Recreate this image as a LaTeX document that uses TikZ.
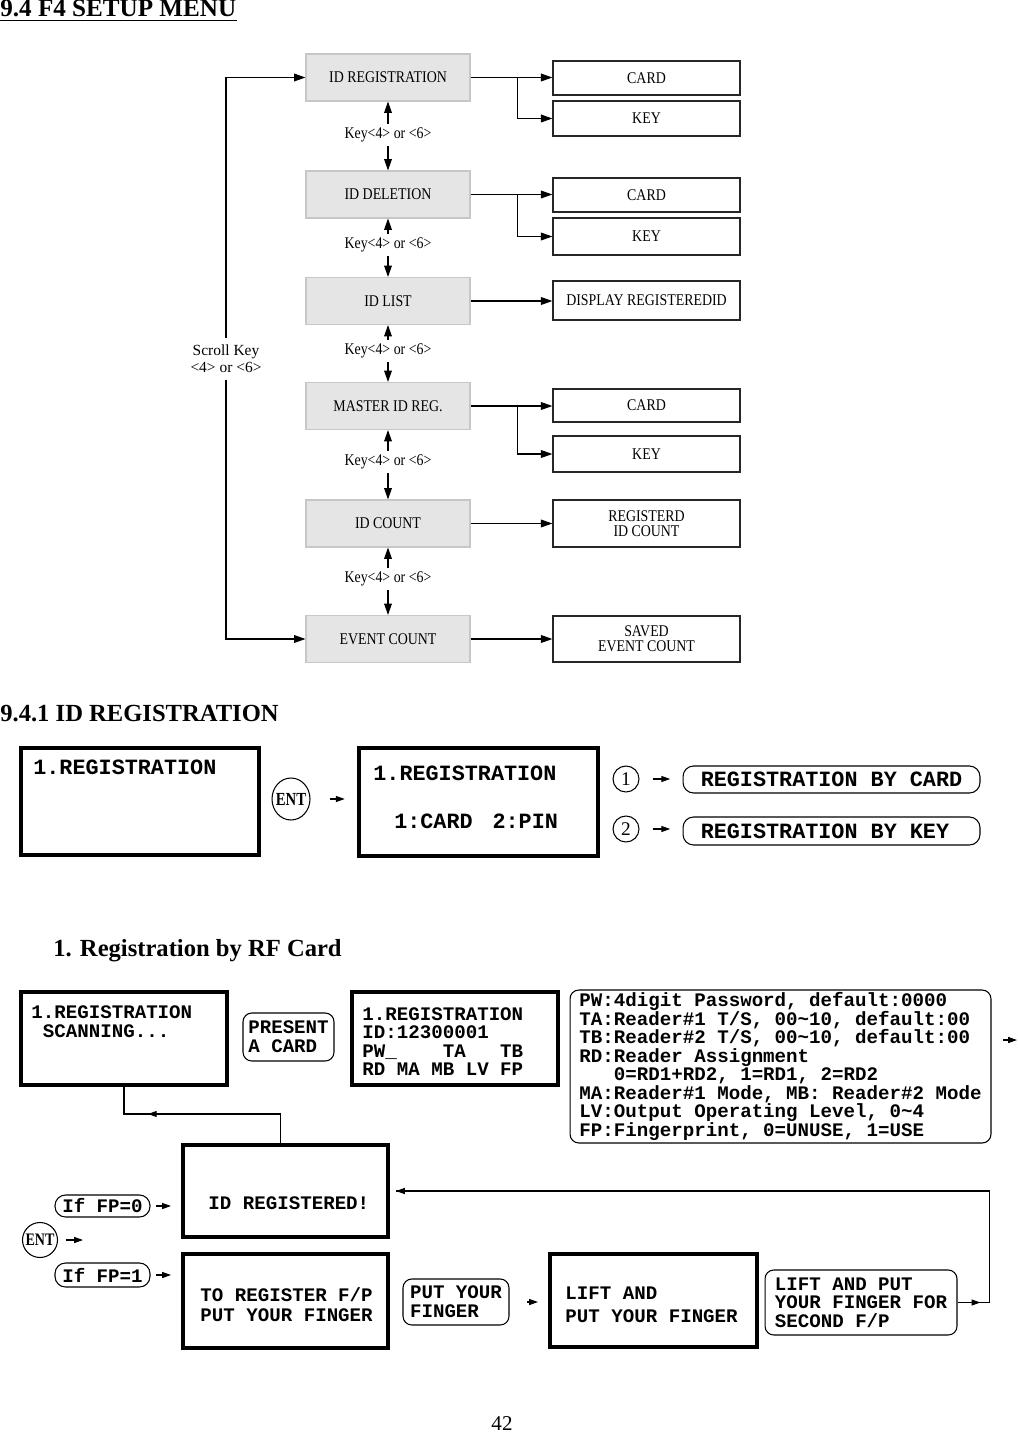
\documentclass[tikz,border=0pt]{standalone}
\usepackage{fontspec}
\setmainfont{Liberation Serif}
\newfontfamily\lcdfont{Liberation Mono}
\newfontfamily\menufont{Liberation Serif}[FakeStretch=0.85]
\newfontfamily\entfont{Liberation Serif}[FakeStretch=0.8]
\usetikzlibrary{arrows.meta,shapes.geometric,decorations.markings,positioning}

\tikzset{
  menubox/.style={draw=black!22, fill=black!10, line width=0.6pt,
    minimum width=3.28cm, minimum height=0.94cm, inner sep=0pt,
    font=\menufont\fontsize{9.3}{8.5}\selectfont},
  subbox/.style={draw=black!85, line width=0.7pt, minimum width=3.74cm,
    inner sep=0pt, align=center, font=\menufont\fontsize{9.3}{8.5}\selectfont},
  keylbl/.style={inner xsep=1pt, inner ysep=2pt, align=center,
    font=\menufont\fontsize{9.3}{9.6}\selectfont},
  flow/.style={line width=0.6pt, -{Triangle[length=6.5pt,width=4.4pt]}},
  lcd/.style={draw, line width=2.3pt, inner sep=0pt},
  scr/.style={anchor=north west, inner sep=0pt, align=left},
  lcdbig/.style={font=\lcdfont\bfseries\fontsize{12.4}{13}\selectfont},
  lcdsmall/.style={font=\lcdfont\bfseries\fontsize{10.9}{#1}\selectfont},
  lcdsmall/.default=10.8,
  tag/.style={draw, line width=0.6pt, rounded corners=5pt, inner sep=0pt, align=left},
  ring/.style={draw, ellipse, line width=0.6pt, inner sep=0pt},
  stub/.style={line width=0.6pt, -{Triangle[length=5pt,width=3.4pt]}},
  backline/.style={line width=0.6pt, postaction={decorate}}
}

\begin{document}
\begin{tikzpicture}[x=0.02cm, y=-0.02cm]
  \useasboundingbox (0,0) rectangle (1017,1432);

  \node[anchor=base west, inner sep=0pt, font=\bfseries\fontsize{14.3}{16}\selectfont] (ttl) at (0,17) {9.4 F4 SETUP MENU};
  \draw[line width=1.1pt] ([yshift=-2pt]ttl.base west) -- ([yshift=-2pt]ttl.base east);

  \node[menubox] (reg) at (388,77.5) {ID REGISTRATION};
  \node[menubox] (del) at (388,194.5) {ID DELETION};
  \node[menubox] (lst) at (388,301) {ID LIST};
  \node[menubox] (mst) at (388,406) {MASTER ID REG.};
  \node[menubox] (cnt) at (388,523.5) {ID COUNT};
  \node[menubox] (evt) at (388,639) {EVENT COUNT};

  \node[subbox, minimum height=0.68cm] (regcard) at (646.5,78) {CARD};
  \node[subbox, minimum height=0.7cm] (regkey) at (646.5,118.5) {KEY};
  \node[subbox, minimum height=0.68cm] (delcard) at (646.5,195) {CARD};
  \node[subbox, minimum height=0.74cm] (delkey) at (646.5,236.5) {KEY};
  \node[subbox, minimum height=0.78cm] (lstshow) at (646.5,300.5) {DISPLAY REGISTEREDID};
  \node[subbox, minimum height=0.66cm] (mstcard) at (646.5,405.5) {CARD};
  \node[subbox, minimum height=0.72cm] (mstkey) at (646.5,454) {KEY};
  \node[subbox, minimum height=0.94cm] (cntshow) at (646.5,523.5) {REGISTERD\\ID COUNT};
  \node[subbox, minimum height=0.92cm] (evtshow) at (646.5,639) {SAVED\\EVENT COUNT};

  \draw[flow] (reg) -- (reg -| regcard.west);
  \draw[flow] (reg.east) -- ++(47,0) |- (regkey);
  \draw[flow] (del) -- (del -| delcard.west);
  \draw[flow] (del.east) -- ++(47,0) |- (delkey);
  \draw[flow] (lst) -- (lst -| lstshow.west);
  \draw[flow] (mst) -- (mst -| mstcard.west);
  \draw[flow] (mst.east) -- ++(47,0) |- (mstkey);
  \draw[flow] (cnt) -- (cntshow);
  \draw[flow] (evt) -- (evtshow);

  \foreach \up/\dn/\y [count=\i] in {reg/del/135, del/lst/245, lst/mst/351, mst/cnt/462, cnt/evt/579}{
    \node[keylbl] (k\i) at (388,\y) {Key<4> or <6>};
    \draw[flow] (k\i) -- (\up);
    \draw[flow] (k\i) -- (\dn);
  }

  \node[keylbl, inner ysep=3.6pt, font=\fontsize{8.8}{9.6}\selectfont] (scroll) at (226,359) {Scroll Key\\<4> or <6>};
  \draw[flow] (scroll) |- (reg);
  \draw[flow] (scroll) |- (evt);

  \node[anchor=base west, inner sep=0pt, font=\bfseries\fontsize{14}{16}\selectfont] (sec) at (0,721) {9.4.1 ID REGISTRATION};

  \node[lcd, minimum width=4.76cm, minimum height=2.14cm] (lcda) at (140,801.5) {};
  \node[scr, lcdbig] (lcdaT) at (33,760) {1.REGISTRATION};
  \node[ring, inner xsep=-1.5pt, minimum width=0.76cm, minimum height=0.84cm,
    font=\entfont\bfseries\fontsize{10.5}{10.5}\selectfont] (enta) at (291,799) {ENT};
  \node[lcd, minimum width=4.78cm, minimum height=2.16cm] (lcdb) at (478.5,802) {};
  \node[scr, lcdbig] (lcdbT) at (373,766) {1.REGISTRATION\\[14.2pt]\hspace*{11.9pt}1:CARD\hspace{11.3pt}2:PIN};
  \node[ring, minimum size=0.52cm, font=\fontsize{11}{11}\selectfont] (one) at (626,779) {1};
  \node[ring, minimum size=0.52cm, font=\fontsize{11}{11}\selectfont] (two) at (626,829) {2};
  \node[tag, lcdbig, rounded corners=6pt, minimum width=5.94cm, minimum height=0.54cm] (bycard) at (831.5,779.5) {REGISTRATION BY CARD};
  \node[tag, lcdbig, rounded corners=6pt, minimum width=5.94cm, minimum height=0.56cm] (bykey) at (831.5,831) {REGISTRATION BY KEY\hphantom{X}};
  \draw[stub, shorten <=10.8pt, shorten >=7pt] (enta) -- (enta -| lcdb.west);
  \draw[stub, shorten <=7.4pt, shorten >=7pt] (one) -- (one -| bycard.west);
  \draw[stub, shorten <=7.4pt, shorten >=7pt] (two) -- (two -| bykey.west);

  \node[anchor=base west, inner sep=0pt, font=\bfseries\fontsize{14}{16}\selectfont] (sub) at (53,956) {1. Registration by RF Card};

  \node[lcd, minimum width=4.12cm, minimum height=1.86cm] (scan) at (124,1038.5) {};
  \node[scr, lcdsmall] (scanT) at (31,1005) {1.REGISTRATION\\~SCANNING...};
  \node[tag, lcdsmall, minimum width=1.82cm, minimum height=0.96cm] (card) at (288.5,1037) {PRESENT\\A CARD};
  \node[lcd, minimum width=4.12cm, minimum height=1.86cm] (idscr) at (455,1038.5) {};
  \node[scr, lcdsmall=10.5] (idscrT) at (362,1007) {1.REGISTRATION\\ID:12300001\\PW\_~~~~TA~~~TB\\RD~MA~MB~LV~FP};
  \node[tag, lcdsmall=10.5, minimum width=8.42cm, minimum height=3.06cm] (info) at (780.5,1066.5)
    {PW:4digit Password, default:0000\\
     TA:Reader\#1 T/S, 00\textasciitilde10, default:00\\
     TB:Reader\#2 T/S, 00\textasciitilde10, default:00\\
     RD:Reader Assignment\\
     ~~~0=RD1+RD2, 1=RD1, 2=RD2\\
     MA:Reader\#1 Mode, MB: Reader\#2 Mode\\
     LV:Output Operating Level, 0\textasciitilde4\\
     FP:Fingerprint, 0=UNUSE, 1=USE};
  \coordinate (infoout) at (1017,1040);
  \draw[stub, shorten <=6.8pt] (info.east |- infoout) -- (infoout);

  \node[lcd, minimum width=4.1cm, minimum height=1.84cm] (okbox) at (285.5,1191) {};
  \node[scr, lcdsmall] (okT) at (208,1196) {ID REGISTERED!};
  \node[tag, lcdsmall, rounded corners=6pt, minimum width=1.9cm, minimum height=0.44cm] (fp0) at (102.5,1206) {If FP=0};
  \node[ring, inner xsep=-1.5pt, minimum width=0.7cm, minimum height=0.7cm,
    font=\entfont\bfseries\fontsize{10}{10}\selectfont] (entb) at (40,1240) {ENT};
  \coordinate (entgo) at (83,1240);
  \node[tag, lcdsmall, rounded corners=6pt, minimum width=1.9cm, minimum height=0.48cm] (fp1) at (102.5,1275) {If FP=1};
  \node[lcd, minimum width=4.1cm, minimum height=1.88cm] (tobox) at (285.5,1301) {};
  \node[scr, lcdsmall=11.3] (toT) at (200,1287) {TO REGISTER F/P\\PUT YOUR FINGER};
  \node[tag, lcdsmall, minimum width=2.12cm, minimum height=0.92cm] (putf) at (456,1302) {PUT YOUR\\FINGER};
  \node[lcd, minimum width=4.14cm, minimum height=1.86cm] (liftbox) at (653.5,1300.5) {};
  \node[scr, lcdsmall=13] (liftT) at (565,1287) {LIFT AND\\PUT YOUR FINGER};
  \node[tag, lcdsmall=10.5, minimum width=3.84cm, minimum height=1.3cm] (again) at (861,1302.5) {LIFT AND PUT\\YOUR FINGER FOR\\SECOND F/P};

  \draw[stub, shorten <=3.4pt, shorten >=5.7pt] (fp0) -- (fp0 -| okbox.west);
  \draw[stub, shorten <=4.5pt] (entb) -- (entgo);
  \draw[stub, shorten <=3.4pt, shorten >=5.7pt] (fp1) -- (fp1 -| tobox.west);
  \draw[stub, shorten <=10.2pt, shorten >=5.7pt] (putf) -- (putf -| liftbox.west);

  \draw[backline, decoration={markings, mark=at position 0.76 with {\arrow{Triangle[length=5pt,width=3.4pt]}}}]
    ([xshift=-3pt]okbox.north) -- ++(0,-29) -| (scan);
  \draw[backline, shorten >=3.4pt, decoration={markings,
      mark=at position 13pt with {\arrow{Triangle[length=5pt,width=3.4pt]}},
      mark=at position -3.4pt with {\arrow{Triangle[length=5pt,width=3.4pt]}}}]
    (again.east) -- ++(32,0) |- (okbox);

  \node[anchor=base, inner sep=0pt, font=\fontsize{12}{14}\selectfont] (pg) at (502,1430) {42};
\end{tikzpicture}
\end{document}
